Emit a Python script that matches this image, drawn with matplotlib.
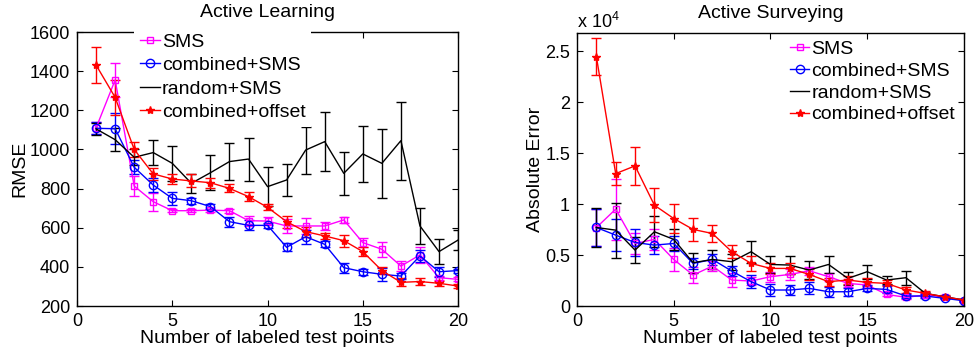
import numpy as np
import matplotlib
matplotlib.use('Agg')
import matplotlib.pyplot as plt
from matplotlib.ticker import FuncFormatter

plt.rcParams['font.family'] = ['Liberation Sans', 'DejaVu Sans']
plt.rcParams['mathtext.fontset'] = 'custom'
plt.rcParams['mathtext.rm'] = 'Liberation Sans'
plt.rcParams['mathtext.default'] = 'regular'

n_points = list(range(1, 21))
labels = ['SMS', 'combined+SMS', 'random+SMS', 'combined+offset']

# Active Learning (RMSE)
al_sms = [1110, 1355, 813, 733, 687, 687, 690, 687, 636, 634, 609, 609, 609, 640, 524, 490, 404, 461, 345, 336]
al_sms_err = [30, 85, 50, 47, 8, 8, 8, 10, 25, 20, 35, 40, 20, 17, 23, 38, 25, 40, 10, 10]
al_comb = [1108, 1106, 909, 818, 750, 738, 708, 631, 612, 612, 500, 554, 515, 396, 375, 362, 353, 456, 375, 381]
al_comb_err = [30, 80, 35, 35, 35, 15, 12, 25, 25, 12, 20, 35, 15, 25, 15, 33, 15, 30, 25, 10]
al_rand = [1105, 1050, 960, 984, 929, 827, 881, 938, 951, 810, 844, 997, 1040, 878, 977, 929, 1045, 609, 478, 537]
al_rand_err = [30, 60, 40, 65, 90, 50, 90, 95, 110, 100, 80, 120, 150, 110, 145, 175, 200, 90, 65, 50]
al_off = [1431, 1266, 1000, 875, 849, 839, 830, 801, 759, 704, 631, 580, 558, 534, 478, 381, 321, 325, 316, 302]
al_off_err = [90, 90, 40, 30, 25, 33, 25, 20, 22, 15, 30, 25, 15, 30, 25, 20, 20, 20, 12, 10]

# Active Surveying (absolute error)
as_sms = [7700, 9510, 6140, 6540, 4570, 3040, 3920, 2550, 2450, 2880, 3100, 3460, 2880, 2220, 2060, 1140, 850, 1080, 900, 520]
as_sms_err = [1800, 3000, 1000, 1000, 1100, 800, 500, 650, 400, 500, 500, 400, 400, 400, 300, 200, 150, 150, 100, 100]
as_comb = [7710, 6960, 6240, 5980, 6140, 4180, 4570, 3430, 2390, 1570, 1570, 1730, 1400, 1400, 1730, 1630, 980, 980, 750, 520]
as_comb_err = [1800, 1600, 1300, 900, 700, 500, 500, 500, 650, 600, 500, 600, 500, 400, 300, 400, 150, 150, 100, 100]
as_rand = [7710, 7450, 5490, 7290, 6540, 4250, 4570, 4350, 5330, 4080, 4020, 3530, 4080, 2710, 3370, 2550, 2780, 1240, 900, 590]
as_rand_err = [1900, 2700, 1300, 1500, 1000, 1000, 900, 800, 1100, 850, 900, 900, 850, 650, 700, 400, 700, 150, 100, 100]
as_off = [24500, 13000, 13760, 9900, 8590, 7520, 7120, 5330, 4180, 3690, 3690, 3100, 2390, 2550, 2320, 2220, 1570, 1240, 900, 590]
as_off_err = [1800, 1100, 1900, 1700, 1450, 1100, 800, 650, 700, 500, 500, 500, 400, 400, 400, 300, 300, 200, 150, 100]

colors = ['#ff00ff', '#0000ff', '#000000', '#ff0000']
markers = ['s', 'o', None, '*']
msizes = [5, 6, 0, 6]
mfcs = ['none', 'none', 'none', '#ff0000']


def draw(ax, series, errs):
    handles = []
    for y, e, c, m, ms, mfc in zip(series, errs, colors, markers, msizes, mfcs):
        cont = ax.errorbar(n_points, y, yerr=e, color=c, ecolor=c, lw=1.0, elinewidth=1.0,
                           capsize=3.5, marker=m, ms=ms, mfc=mfc, mec=c, mew=1.0)
        handles.append(cont[0])
    ax.set_xlim(0, 20)
    ax.set_xticks([0, 5, 10, 15, 20])
    ax.tick_params(direction='in', top=True, right=True, length=4, width=0.8,
                   labelsize=13, pad=5)
    for s in ax.spines.values():
        s.set_linewidth(1.0)
    ax.set_xlabel('Number of labeled test points', fontsize=14, labelpad=0)
    return handles


fig = plt.figure(figsize=(9.74, 3.49), dpi=100)
ax1 = fig.add_axes([0.0791, 0.1232, 0.3912, 0.785])
ax2 = fig.add_axes([0.5924, 0.1232, 0.3973, 0.782])

h1 = draw(ax1, [al_sms, al_comb, al_rand, al_off], [al_sms_err, al_comb_err, al_rand_err, al_off_err])
ax1.set_ylim(200, 1600)
ax1.set_yticks(range(200, 1601, 200))
ax1.set_ylabel('RMSE', fontsize=14, labelpad=1)
ax1.set_title('Active Learning', fontsize=14, pad=11)
leg1 = ax1.legend(h1, labels, loc='upper left', bbox_to_anchor=(0.138, 0.922),
                  bbox_transform=fig.transFigure, fontsize=14, numpoints=1,
                  handlelength=1.0, handletextpad=0.1, labelspacing=0.3,
                  borderpad=0.3, borderaxespad=0, frameon=True, fancybox=False)
leg1.get_frame().set_edgecolor('none')
leg1.get_frame().set_facecolor('white')
leg1.get_frame().set_alpha(1)

h2 = draw(ax2, [as_sms, as_comb, as_rand, as_off], [as_sms_err, as_comb_err, as_rand_err, as_off_err])
ax2.set_ylim(0, 26800)
ax2.set_yticks([0, 5000, 10000, 15000, 20000, 25000])
ax2.yaxis.set_major_formatter(FuncFormatter(lambda v, p: '%g' % (v / 1e4)))
ax2.set_ylabel('Absolute Error', fontsize=14, labelpad=1)
ax2.set_title('Active Surveying', fontsize=14, pad=11)
ax2.text(0.0, 1.005, 'x 10$^4$', transform=ax2.transAxes, fontsize=13, ha='left', va='bottom')
leg2 = ax2.legend(h2, labels, loc='upper left', bbox_to_anchor=(0.811, 0.885),
                  bbox_transform=fig.transFigure, fontsize=14, numpoints=1,
                  handlelength=1.0, handletextpad=0.1, labelspacing=0.22,
                  borderpad=0.0, borderaxespad=0, frameon=False)

fig.savefig('out.png', dpi=100)
